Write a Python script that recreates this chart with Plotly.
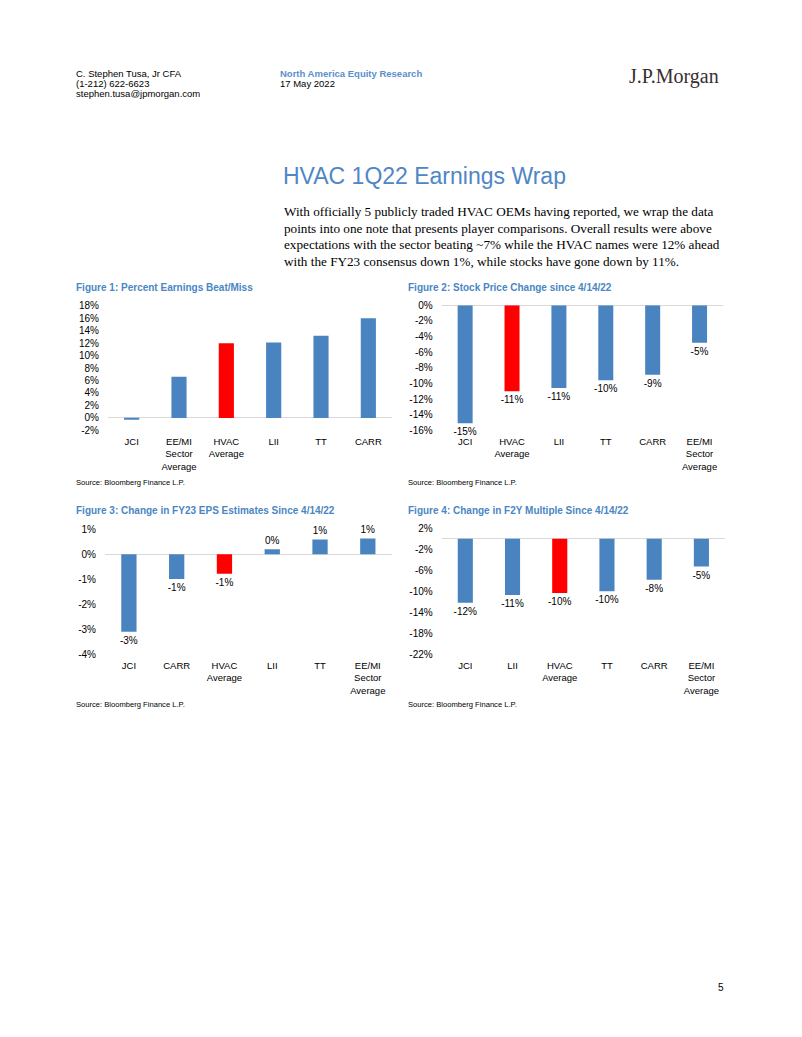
import plotly.graph_objects as go

# ---------------- data ----------------
fig1_categories = ["JCI", "EE/MI Sector Average", "HVAC Average", "LII", "TT", "CARR"]
fig1_values = [-0.2, 6.6, 12.0, 12.1, 13.2, 16.0]

fig2_categories = ["JCI", "HVAC Average", "LII", "TT", "CARR", "EE/MI Sector Average"]
fig2_values = [-15.1, -11.0, -10.6, -9.6, -8.9, -4.8]

fig3_categories = ["JCI", "CARR", "HVAC Average", "LII", "TT", "EE/MI Sector Average"]
fig3_values = [-3.1, -0.99, -0.78, 0.2, 0.59, 0.63]

fig4_categories = ["JCI", "LII", "HVAC Average", "TT", "CARR", "EE/MI Sector Average"]
fig4_values = [-12.2, -10.7, -10.3, -10.0, -7.8, -5.3]

highlight = "HVAC Average"

fig1_ticks = dict(range=[-2, 18], dtick=2)
fig2_ticks = dict(range=[-16, 0], dtick=2)
fig3_ticks = dict(range=[-4, 1], dtick=1)
fig4_ticks = dict(range=[-22, 2], dtick=4)

# ---------------- style ----------------
W, H = 802, 1037
BLUE = "#4A84C0"
RED = "#FF0000"
TITLE_BLUE = "#4A86C4"
SANS = "Liberation Sans, Arial"
SERIF = "Liberation Serif, Times New Roman"


def px_x(x):
    return x / W


def px_y(y):
    return 1 - y / H


fig = go.Figure()

panels = [
    (fig1_categories, fig1_values, fig1_ticks, (108, 392), (303.3, 429.3), False),
    (fig2_categories, fig2_values, fig2_ticks, (441.7, 723), (302.7, 429.3), True),
    (fig3_categories, fig3_values, fig3_ticks, (105, 391.7), (529.3, 656), True),
    (fig4_categories, fig4_values, fig4_ticks, (441.7, 725), (528.3, 656), True),
]

layout_axes = {}
for i, (cats, vals, ticks, (x0, x1), (ytop, ybot), labels) in enumerate(panels, start=1):
    sfx = "" if i == 1 else str(i)
    labels_disp = [c.replace(" ", "<br>") for c in cats]
    colors = [RED if c == highlight else BLUE for c in cats]
    lo, hi = ticks["range"]
    step = ticks["dtick"]
    tickvals = list(range(hi, lo - 1, -step))
    ticktext = [f"{v}%" for v in tickvals]
    fig.add_trace(go.Bar(
        x=labels_disp, y=vals,
        marker=dict(color=colors, line=dict(width=0)),
        xaxis="x" + sfx, yaxis="y" + sfx,
        text=[f"{round(v):d}%" for v in vals] if labels else None,
        textposition="outside" if labels else "none",
        textfont=dict(family=SANS, size=10, color="#000000"),
        constraintext="none",
        cliponaxis=False,
        showlegend=False,
        hoverinfo="skip",
    ))
    layout_axes["xaxis" + sfx] = dict(
        domain=[px_x(x0), px_x(x1)], anchor="y" + sfx,
        showgrid=False, showline=False, zeroline=False,
        ticks="", tickfont=dict(family=SANS, size=9.5, color="#000000"),
        ticklabelstandoff=4, fixedrange=True,
    )
    layout_axes["yaxis" + sfx] = dict(
        domain=[px_y(ybot), px_y(ytop)], anchor="x" + sfx,
        range=[lo, hi], tickmode="array", tickvals=tickvals, ticktext=ticktext,
        showgrid=False, showline=False,
        zeroline=True, zerolinecolor="#D9D9D9", zerolinewidth=1,
        ticks="", tickfont=dict(family=SANS, size=10, color="#000000"),
        ticklabelstandoff=8, fixedrange=True,
    )

annotations = []


def txt(x, y, s, size, color="#000000", family=SANS, xanchor="left"):
    annotations.append(dict(
        x=px_x(x), y=px_y(y), xref="paper", yref="paper",
        text=s, showarrow=False, xanchor=xanchor, yanchor="middle",
        align="left", font=dict(family=family, size=size, color=color),
    ))


# header
txt(74, 68, "C. Stephen Tusa, Jr CFA", 9.5)
txt(74, 78.3, "(1-212) 622-6623", 9.5)
txt(74, 88.5, "stephen.tusa@jpmorgan.com", 9.5)
txt(278, 68, "<b>North America Equity Research</b>", 9.5, color="#5B8FC9")
txt(278, 78.3, "17 May 2022", 9.5)
txt(721, 71, "J.P.Morgan", 20, color="#3A2E2E", family=SERIF, xanchor="right")

# title + paragraph
txt(281, 172, "HVAC 1Q22 Earnings Wrap", 23, color="#4F86C6")
para = [
    "With officially 5 publicly traded HVAC OEMs having reported, we wrap the data",
    "points into one note that presents player comparisons. Overall results were above",
    "expectations with the sector beating ~7% while the HVAC names were 12% ahead",
    "with the FY23 consensus down 1%, while stocks have gone down by 11%.",
]
for k, line in enumerate(para):
    txt(282, 208 + k * 16.8, line, 13.2, family=SERIF)

# figure titles and sources
txt(74, 285, "<b>Figure 1: Percent Earnings Beat/Miss</b>", 10, color=TITLE_BLUE)
txt(406, 285, "<b>Figure 2: Stock Price Change since 4/14/22</b>", 10, color=TITLE_BLUE)
txt(74, 510, "<b>Figure 3: Change in FY23 EPS Estimates Since 4/14/22</b>", 10, color=TITLE_BLUE)
txt(406, 510, "<b>Figure 4: Change in F2Y Multiple Since 4/14/22</b>", 10, color=TITLE_BLUE)
txt(74, 482.5, "Source: Bloomberg Finance L.P.", 7.6)
txt(406, 482.5, "Source: Bloomberg Finance L.P.", 7.6)
txt(74, 707, "Source: Bloomberg Finance L.P.", 7.6)
txt(406, 707, "Source: Bloomberg Finance L.P.", 7.6)

# page number
txt(726, 993, "5", 10, xanchor="right")

fig.update_layout(
    width=W, height=H,
    margin=dict(l=0, r=0, t=0, b=0),
    paper_bgcolor="#FFFFFF", plot_bgcolor="#FFFFFF",
    bargap=0.68,
    annotations=annotations,
    showlegend=False,
    **layout_axes,
)

fig.write_html(
    "out.html",
    config={"displayModeBar": False},
    post_script="document.body.style.margin='0';document.body.style.overflow='hidden';",
)
